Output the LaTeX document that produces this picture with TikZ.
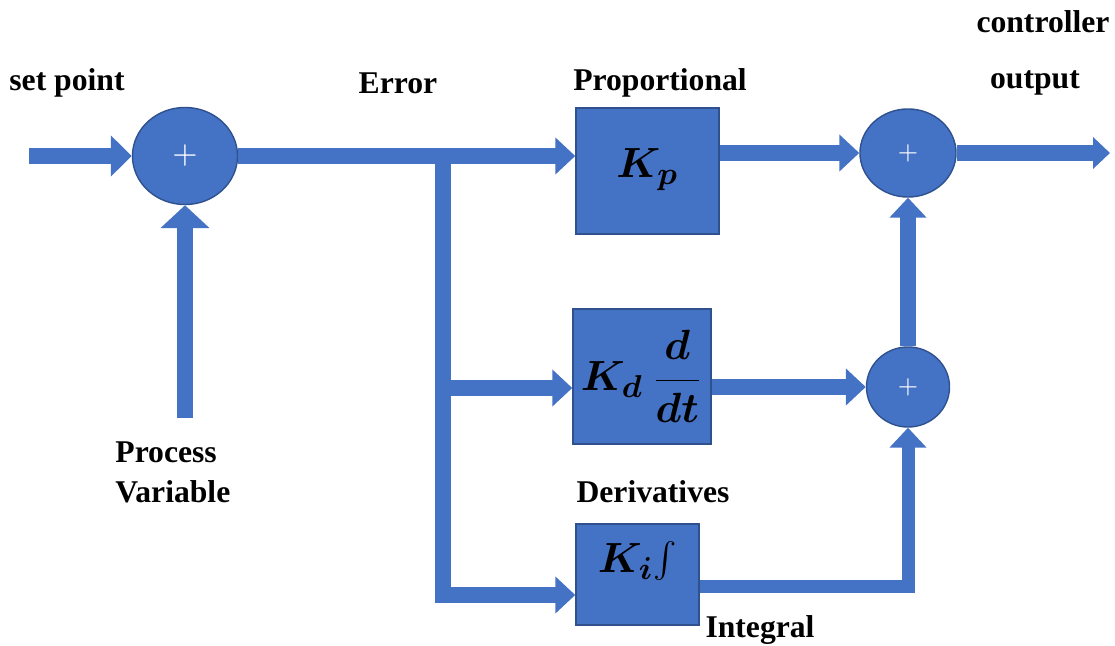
\documentclass[tikz,border=0pt]{standalone}
\usepackage{fontspec}
\setmainfont{Liberation Serif}
\usetikzlibrary{arrows.meta,shapes.geometric}
\definecolor{pidblue}{HTML}{4472C4}
\definecolor{pidedge}{HTML}{2F528F}

\begin{document}
\begin{tikzpicture}[x=0.01cm, y=-0.01cm,
    flow/.style={line width=1.6mm, draw=pidblue, line join=miter, -{Triangle[length=2mm, width=3.6mm]}},
    sumnode/.style={ellipse, draw=pidedge, fill=pidblue, inner sep=0pt, text=white, font=\sffamily\small},
    gain/.style={rectangle, draw=pidedge, fill=pidblue, inner sep=0pt, font=\fontsize{13}{15}\selectfont\boldmath},
    lbl/.style={font=\fontsize{9}{11.4}\selectfont\bfseries}]
    \useasboundingbox (0,0) rectangle (1115,646);
    % 求和点
    \node[sumnode, minimum width=1.05cm, minimum height=0.97cm] (sum1) at (185,156) {+};
    \node[sumnode, minimum width=0.96cm, minimum height=0.88cm, font=\sffamily\scriptsize] (sum2) at (908,153) {+};
    \node[sumnode, minimum width=0.83cm, minimum height=0.80cm, font=\sffamily\scriptsize] (sum3) at (908,387) {+};
    % 增益框
    \node[gain, minimum width=1.43cm, minimum height=1.26cm, text depth=0.15cm] (kp) at (647.5,171) {$K_p$};
    \node[gain, minimum width=1.38cm, minimum height=1.35cm] (kd) at (642,376.5) {$K_d\,\displaystyle\frac{d}{dt}$};
    \node[gain, minimum width=1.23cm, minimum height=1.01cm, text depth=0.35cm] (ki) at (637.5,574.5) {$K_i\!\int$};
    % 端点
    \coordinate (spin) at (29,156);
    \coordinate (pvin) at (185,418);
    \coordinate (br) at (443,158);
    \coordinate (brd) at (443,388);
    \coordinate (brk) at (443,595);
    \coordinate (out) at (1110,153);
    % 连接
    \draw[flow, -{Triangle[length=2.1mm, width=4mm]}] (spin) -- (sum1.west);
    \draw[flow, -{Triangle[length=2.3mm, width=4.8mm]}] (pvin) -- (sum1.south);
    \draw[flow] (sum1.east) -- (sum1.east -| kp.west);
    \draw[flow] (brd) -- (brd -| kd.west);
    \draw[flow] (br) |- (brk -| ki.west);
    \draw[flow] (sum2.west -| kp.east) -- (sum2.west);
    \draw[flow] (sum3.west -| kd.east) -- (sum3.west);
    \draw[flow, line width=1.3mm] ([yshift=-0.12cm]ki.east) -| (sum3.south);
    \draw[flow] (sum3.north) -- (sum2.south);
    \draw[flow, -{Triangle[length=1.7mm, width=3.1mm]}] (sum2.east) -- (out);
    % 标注
    \node[lbl] (tsp) at (67,83) {set point};
    \node[lbl] (terr) at (398,83) {Error};
    \node[lbl] (tprop) at (660,83) {Proportional};
    \node[lbl] (tctrl) at (1043,22) {controller};
    \node[lbl] (tout) at (1035,83) {output};
    \node[lbl, anchor=west, align=left] (tpv) at (103,472) {Process\\Variable};
    \node[lbl] (tder) at (653,492) {Derivatives};
    \node[lbl] (tint) at (760,630) {Integral};
\end{tikzpicture}
\end{document}
